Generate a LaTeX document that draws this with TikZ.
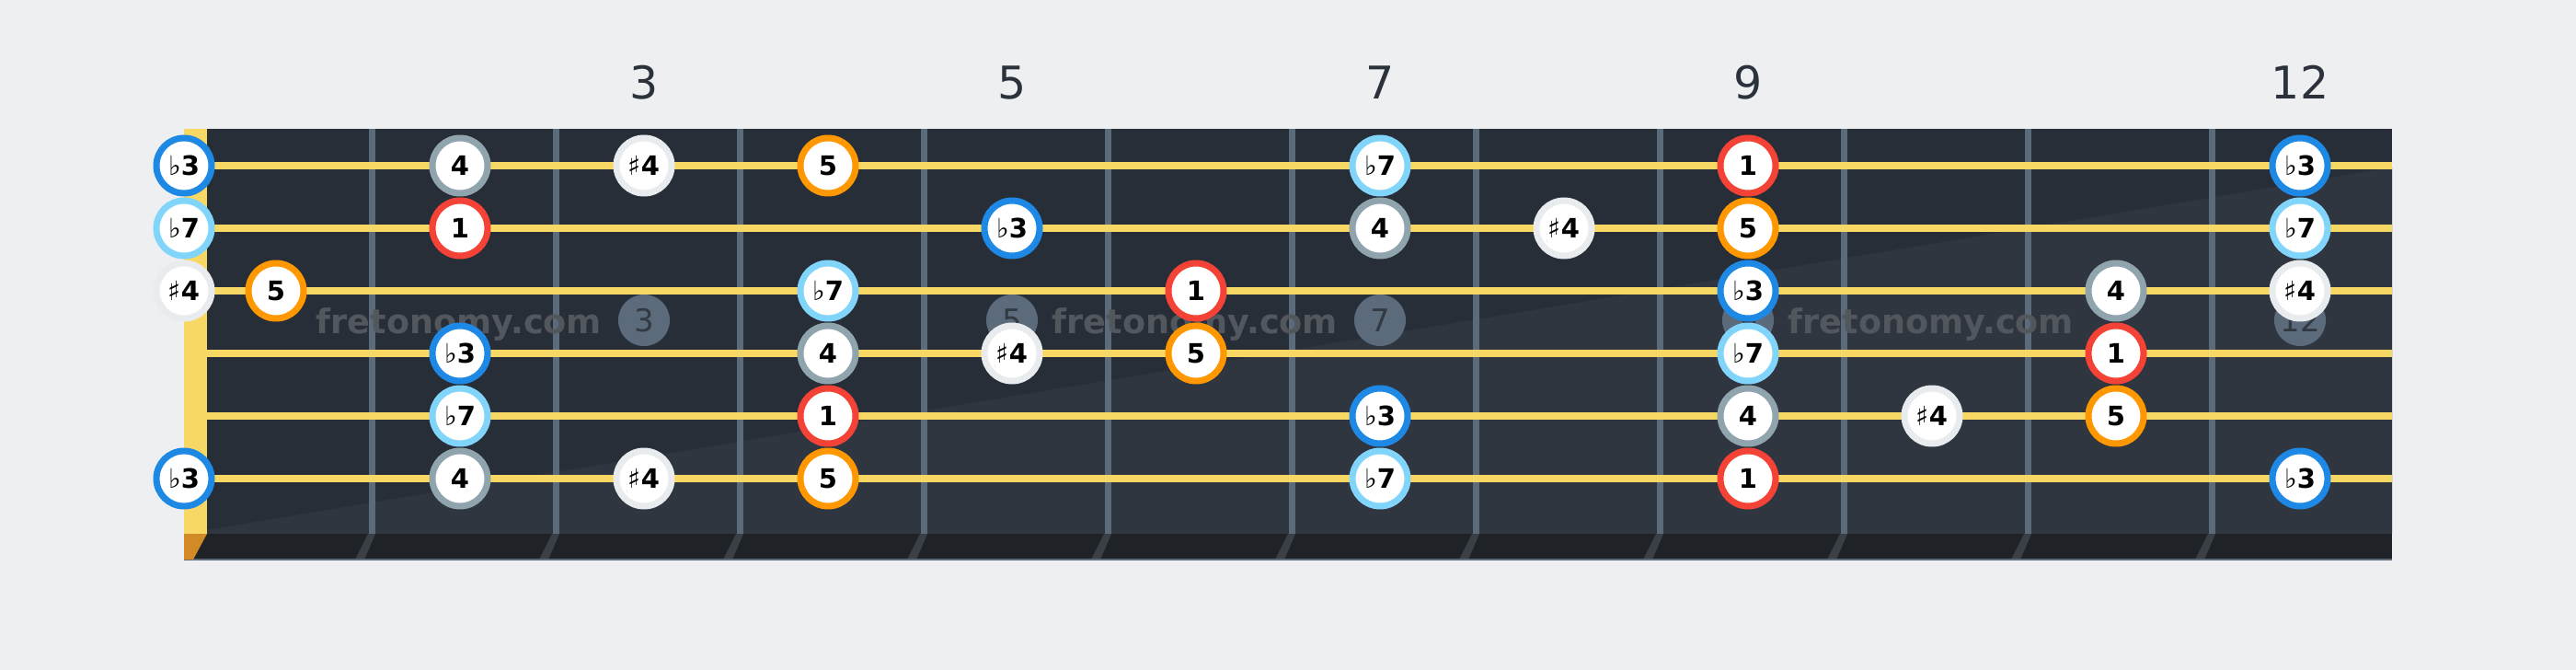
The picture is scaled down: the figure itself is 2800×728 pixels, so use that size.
\documentclass[tikz,border=0pt]{standalone}
\usepackage{fontspec}
\setmainfont{DejaVu Sans}
\definecolor{bgc}{HTML}{EEEFF1}
\definecolor{boardA}{HTML}{282E37}
\definecolor{boardB}{HTML}{30363F}
\definecolor{stripc}{HTML}{1F2328}
\definecolor{fretc}{HTML}{5B6B7B}
\definecolor{fretsl}{HTML}{3B4047}
\definecolor{strc}{HTML}{F8D864}
\definecolor{nutbot}{HTML}{D18A26}
\definecolor{numc}{HTML}{2B323B}
\definecolor{wmtxt}{HTML}{52575E}
\definecolor{wmcir}{HTML}{5B6B7B}
\definecolor{wmdig}{HTML}{313943}
\definecolor{cBthree}{HTML}{1E88E5}
\definecolor{cBseven}{HTML}{81D4FA}
\definecolor{cFour}{HTML}{90A4AE}
\definecolor{cSfour}{HTML}{E9ECEF}
\definecolor{cFive}{HTML}{FF9800}
\definecolor{cOne}{HTML}{F44336}
\newcommand\myflat{{\mdseries ♭}}
\newcommand\mysharp{{\mdseries ♯}}
\begin{document}
\begin{tikzpicture}[x=0.5pt,y=-0.5pt,
  note/.style={circle, draw, line width=3.5pt, fill=white, minimum size=30pt, inner sep=0pt,
    text=black, font=\bfseries\fontsize{14.5}{14.5}\selectfont, text height=10.5pt, text depth=0pt},
  ib3/.style={note, draw=cBthree},
  ib7/.style={note, draw=cBseven},
  i4/.style={note, draw=cFour},
  is4/.style={note, draw=cSfour},
  i5/.style={note, draw=cFive},
  i1/.style={note, draw=cOne},
  fretnum/.style={anchor=base, inner sep=0pt, text=numc, font=\fontsize{24.5}{24.5}\selectfont},
  wmtext/.style={anchor=base, inner sep=0pt, text=wmtxt, font=\bfseries\fontsize{18.3}{18.3}\selectfont},
  wmcirc/.style={circle, fill=wmcir, minimum size=28pt, inner sep=0pt, text=wmdig,
    font=\fontsize{17}{17}\selectfont, text height=12.4pt, text depth=0pt},
  stringline/.style={draw=strc, line width=4pt},
  fretline/.style={draw=fretc, line width=3.5pt}
]
\fill[bgc] (0,0) rectangle (2800,728);
\useasboundingbox (0,0) rectangle (2800,728);
% board
\fill[boardA] (200,140) rectangle (2600,580);
\fill[boardB] (200,580) -- (2600,182) -- (2600,580) -- cycle;
% frets
\foreach \k in {1,...,11}{
  \pgfmathsetmacro\fx{404+200*(\k-1)}
  \coordinate (ft\k) at (\fx,140);
  \coordinate (fb\k) at (\fx,580);
  \draw[fretline] (ft\k) -- (fb\k);
}
% bottom strip
\fill[stripc] (200,580) rectangle (2600,608);
\foreach \k in {1,...,11}{
  \pgfmathsetmacro\fx{404+200*(\k-1)}
  \fill[fretsl] (\fx-4,580) -- (\fx+4,580) -- (\fx-8,608) -- (\fx-18,608) -- cycle;
}
\draw[fretc, line width=0.8pt] (200,608) -- (2600,608);
% nut
\fill[strc] (200,140) rectangle (225,580);
\fill[nutbot] (200,580) -- (225,580) -- (210,608) -- (200,608) -- cycle;
% fret numbers
\node[fretnum] (fn3) at (700,107.5) {3};
\node[fretnum] (fn5) at (1100,107.5) {5};
\node[fretnum] (fn7) at (1500,107.5) {7};
\node[fretnum] (fn9) at (1900,107.5) {9};
\node[fretnum] (fn12) at (2500,107.5) {12};
% watermarks
\node[wmtext] (wm1) at (499,362.5) {fretonomy.com};
\node[wmtext] (wm2) at (1299,362.5) {fretonomy.com};
\node[wmtext] (wm3) at (2099,362.5) {fretonomy.com};
\node[wmcirc] (wc3) at (700,348) {3};
\node[wmcirc] (wc5) at (1100,348) {5};
\node[wmcirc] (wc7) at (1500,348) {7};
\node[wmcirc] (wc9) at (1900,348) {9};
\node[wmcirc] (wc12) at (2500,348) {12};
% strings
\foreach \s in {1,...,6}{
  \pgfmathsetmacro\sy{180+68*(\s-1)}
  \coordinate (sa\s) at (225,\sy);
  \coordinate (sb\s) at (2600,\sy);
  \draw[stringline] (sa\s) -- (sb\s);
}
% notes
\foreach \s/\f/\c/\t in {
  1/0/ib3/\myflat3, 1/2/i4/4, 1/3/is4/\mysharp4, 1/4/i5/5, 1/7/ib7/\myflat7, 1/9/i1/1, 1/12/ib3/\myflat3,
  2/0/ib7/\myflat7, 2/2/i1/1, 2/5/ib3/\myflat3, 2/7/i4/4, 2/8/is4/\mysharp4, 2/9/i5/5, 2/12/ib7/\myflat7,
  3/0/is4/\mysharp4, 3/1/i5/5, 3/4/ib7/\myflat7, 3/6/i1/1, 3/9/ib3/\myflat3, 3/11/i4/4, 3/12/is4/\mysharp4,
  4/2/ib3/\myflat3, 4/4/i4/4, 4/5/is4/\mysharp4, 4/6/i5/5, 4/9/ib7/\myflat7, 4/11/i1/1,
  5/2/ib7/\myflat7, 5/4/i1/1, 5/7/ib3/\myflat3, 5/9/i4/4, 5/10/is4/\mysharp4, 5/11/i5/5,
  6/0/ib3/\myflat3, 6/2/i4/4, 6/3/is4/\mysharp4, 6/4/i5/5, 6/7/ib7/\myflat7, 6/9/i1/1, 6/12/ib3/\myflat3}{
  \pgfmathsetmacro\nx{\f==0 ? 200 : 100+200*\f}
  \pgfmathsetmacro\ny{180+68*(\s-1)}
  \node[\c] (n\s-\f) at (\nx,\ny) {\t};
}
\end{tikzpicture}
\end{document}
